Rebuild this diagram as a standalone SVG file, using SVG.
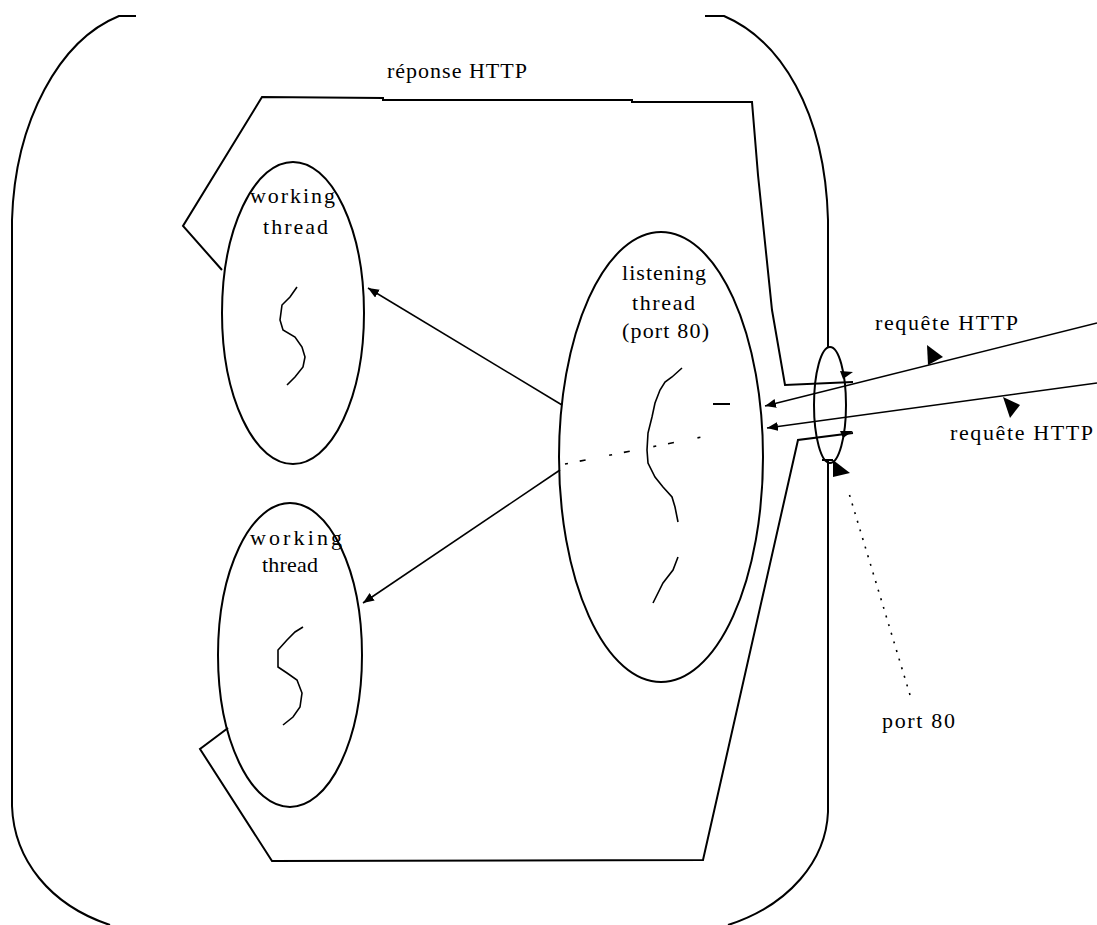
<svg xmlns="http://www.w3.org/2000/svg" width="1097" height="925" viewBox="0 0 1097 925">
<style>
.t{font-family:"Liberation Serif","Times New Roman",serif;font-size:22px;fill:#000}
.s{fill:none;stroke:#000;stroke-width:2}
.th{fill:none;stroke:#000;stroke-width:1.6}
.f{fill:#000;stroke:none}
</style>
<defs>
<marker id="ah" markerUnits="userSpaceOnUse" markerWidth="12" markerHeight="10" refX="11" refY="4.5" orient="auto">
<path d="M0,0 L11,4.5 L0,9 z" fill="#000"/>
</marker>
</defs>
<rect width="1097" height="925" fill="#fff"/>
<g id="server">
<path class="s" d="M136,16 L119,16 C60,40 15,120 12,220 L12,806 C14,860 50,905 110,925"/>
<path class="s" d="M705,16 L724,16 C780,40 825,110 828,220 L828,348"/>
<path class="s" d="M822,460 L833,460 M828,460 L828,812 C826,860 790,905 728,925"/>
</g>
<g id="response">
<polyline class="s" points="222,270 183,226 262,97 383,98 383,100 632,100 632,102 752,102 758,175 772,310 785,385 853,382"/>
<polyline class="s" points="228,728 200,749 272,861 703,860 798,440 853,433"/>
<text class="t" x="387" y="78" textLength="140">réponse HTTP</text>
</g>
<g id="worker1">
<ellipse class="s" cx="293" cy="313" rx="71" ry="151"/>
<polyline class="th" points="297,287 290,297 282,305 280,320 283,330 295,337 302,347 305,357 303,367 295,377 287,385"/>
<text class="t" x="250" y="203" textLength="85">working</text>
<text class="t" x="263" y="234" textLength="65">thread</text>
</g>
<g id="worker2">
<ellipse class="s" cx="290" cy="655" rx="72" ry="152"/>
<polyline class="th" points="303,627 295,632 287,640 278,650 278,667 287,673 297,680 302,693 300,707 293,717 283,725"/>
<text class="t" x="250" y="545" textLength="92">working</text>
<text class="t" x="262" y="572" textLength="56">thread</text>
</g>
<g id="listener">
<ellipse class="s" cx="661" cy="457" rx="102" ry="225"/>
<polyline class="th" points="682,368 672,377 665,382 660,390 655,403 652,417 648,433 647,450 648,463 655,477 663,487 672,497 675,507 678,522"/>
<polyline class="th" points="678,557 673,570 663,583 653,603"/>
<text class="t" x="622" y="280" textLength="84">listening</text>
<text class="t" x="632" y="310" textLength="63">thread</text>
<text class="t" x="622" y="338" textLength="87">(port 80)</text>
</g>
<g id="port">
<ellipse class="s" cx="830" cy="405" rx="16" ry="58"/>
<text class="t" x="882" y="728" textLength="73">port 80</text>
</g>
<g id="requests">
<text class="t" x="875" y="330" textLength="143">requête HTTP</text>
<text class="t" x="950" y="440" textLength="143">requête HTTP</text>
</g>
<g id="connectors">
<line class="th" x1="562" y1="405" x2="368" y2="288" marker-end="url(#ah)"/>
<line class="th" x1="560" y1="470" x2="363" y2="603" marker-end="url(#ah)"/>
<line class="th" x1="565" y1="464" x2="702" y2="437" stroke-dasharray="3 12 6 24"/>
<line class="s" x1="713" y1="404" x2="730" y2="404"/>
<line class="th" x1="1097" y1="323" x2="765" y2="406" marker-end="url(#ah)"/>
<line class="th" x1="1097" y1="383" x2="767" y2="428" marker-end="url(#ah)"/>
<polygon class="f" points="927,345 943,357 928,365"/>
<polygon class="f" points="1003,397 1020,405 1010,418"/>
<polygon class="f" points="840,371 853,372 843,379"/>
<polygon class="f" points="840,431 853,431 843,438"/>
<line class="th" x1="910" y1="695" x2="848" y2="490" stroke-dasharray="2 7"/>
<polygon class="f" points="833,460 850,473 833,477"/>
</g>
</svg>
